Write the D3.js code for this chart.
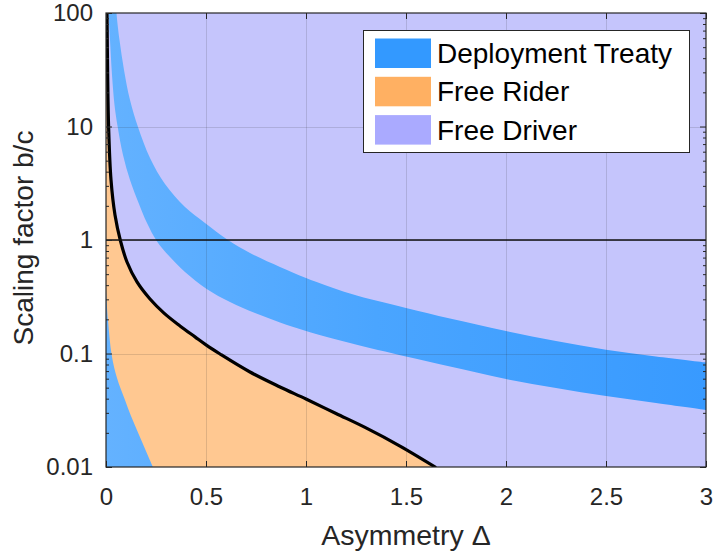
<!DOCTYPE html>
<html>
<head>
<meta charset="utf-8">
<script src="https://cdn.jsdelivr.net/npm/d3@7"></script>
<style>
  body { margin: 0; background: #fff; }
  svg text { font-family: "Liberation Sans", Arial, Helvetica, sans-serif; }
</style>
</head>
<body>
<div id="chart"></div>
<script>
// tick values
var deltaTicks = [0, 0.5, 1, 1.5, 2, 2.5, 3];
var bcTicks = [0.01, 0.1, 1, 10, 100];
var bcTickLabels = ["0.01", "0.1", "1", "10", "100"];

// free rider boundary (black curve)
var riderDelta = [0.0045, 0.005, 0.008, 0.013, 0.025, 0.045, 0.0725, 0.105, 0.155, 0.22, 0.29, 0.37, 0.445, 0.5, 0.57, 0.72, 0.87, 1.0, 1.15, 1.3, 1.47, 1.65];
var riderBC    = [130, 100, 31.5, 9.9, 3.38, 1.66, 0.98, 0.64, 0.427, 0.302, 0.227, 0.175, 0.14, 0.119, 0.099, 0.0687, 0.0507, 0.0397, 0.0296, 0.0221, 0.0153, 0.0099];

// deployment treaty band: outer (upper) and inner (lower) edges
var treatyOuterDelta = [0.05, 0.0525, 0.0675, 0.09, 0.12, 0.16, 0.22, 0.295, 0.395, 0.495, 0.61, 0.72, 0.87, 1.0, 1.22, 1.5, 1.72, 2.0, 2.25, 2.5, 2.75, 3.0];
var treatyOuterBC    = [130, 100, 57.8, 31.5, 17.1, 9.9, 5.28, 3.11, 1.95, 1.41, 1.0, 0.768, 0.578, 0.463, 0.338, 0.252, 0.2035, 0.158, 0.1288, 0.108, 0.0941, 0.0833];
var treatyInnerDelta = [0.01, 0.0125, 0.02, 0.03, 0.0425, 0.0585, 0.085, 0.12, 0.165, 0.205, 0.2535, 0.32, 0.395, 0.5035, 0.62, 0.745, 0.87, 1.0, 1.22, 1.5, 1.72, 2.0, 2.25, 2.5, 2.75, 3.0];
var treatyInnerBC    = [130, 100, 57.8, 28.4, 15.5, 9.9, 5.61, 3.38, 2.08, 1.41, 0.98, 0.708, 0.522, 0.37, 0.284, 0.227, 0.1875, 0.158, 0.1238, 0.0941, 0.0768, 0.0596, 0.0497, 0.0422, 0.0366, 0.0318];

// deployment treaty region near the left edge
var treatyLeftDelta = [0, 0.01, 0.0285, 0.055, 0.095, 0.125, 0.1615, 0.1975, 0.2365];
var treatyLeftBC    = [0.363, 0.197, 0.097, 0.0608, 0.0389, 0.0281, 0.0198, 0.0141, 0.0098];

// legend
var legendNames = ["Deployment Treaty", "Free Rider", "Free Driver"];
var legendColors = ["#3399ff", "#ffb062", "#aaaaff"];

var width = 716, height = 558;
var pLeft = 106, pRight = 706, pTop = 13, pBottom = 467;

var svg = d3.select("#chart").append("svg")
  .attr("width", width)
  .attr("height", height);

var x = d3.scaleLinear().domain([0, 3]).range([pLeft, pRight]);
var y = d3.scaleLog().domain([0.01, 100]).range([pBottom, pTop]);

var defs = svg.append("defs");
defs.append("clipPath").attr("id", "plotclip")
  .append("rect")
  .attr("x", pLeft).attr("y", pTop)
  .attr("width", pRight - pLeft).attr("height", pBottom - pTop);

var grad = defs.append("linearGradient").attr("id", "bluegrad")
  .attr("gradientUnits", "userSpaceOnUse")
  .attr("x1", pLeft).attr("x2", pRight).attr("y1", 0).attr("y2", 0);
grad.append("stop").attr("offset", "0%").attr("stop-color", "#64b2ff");
grad.append("stop").attr("offset", "45%").attr("stop-color", "#4aa5ff");
grad.append("stop").attr("offset", "100%").attr("stop-color", "#389aff");

function zipPts(xs, ys) {
  return xs.map(function(d, i) { return [d, ys[i]]; });
}

var line = d3.line()
  .x(function(d) { return x(d[0]); })
  .y(function(d) { return y(d[1]); })
  .curve(d3.curveCatmullRom.alpha(0.5));

var plot = svg.append("g").attr("clip-path", "url(#plotclip)");

// free driver: everything
plot.append("rect")
  .attr("x", pLeft).attr("y", pTop)
  .attr("width", pRight - pLeft).attr("height", pBottom - pTop)
  .attr("fill", "#c5c5fc");

// free rider: below the black curve
var rider = zipPts(riderDelta, riderBC);
plot.append("path")
  .attr("d", line(rider) + "L" + x(0) + "," + y(0.005) + "L" + x(0) + "," + y(200) + "Z")
  .attr("fill", "#ffc891");

// deployment treaty near the left edge
var treatyLeft = zipPts(treatyLeftDelta, treatyLeftBC);
plot.append("path")
  .attr("d", line(treatyLeft) + "L" + x(0) + "," + y(0.005) + "Z")
  .attr("fill", "url(#bluegrad)");

// deployment treaty band
var outer = zipPts(treatyOuterDelta, treatyOuterBC);
var inner = zipPts(treatyInnerDelta, treatyInnerBC).reverse();
plot.append("path")
  .attr("d", line(outer) + "L" + line(inner).slice(1) + "Z")
  .attr("fill", "url(#bluegrad)");

// grid
var grid = svg.append("g").attr("stroke", "#262626").attr("stroke-opacity", 0.15).attr("stroke-width", 1);
grid.selectAll("line.gx").data(deltaTicks.slice(1, -1)).enter().append("line")
  .attr("x1", function(d) { return Math.round(x(d)) + 0.5; })
  .attr("x2", function(d) { return Math.round(x(d)) + 0.5; })
  .attr("y1", pTop).attr("y2", pBottom);
grid.selectAll("line.gy").data(bcTicks.slice(1, -1)).enter().append("line")
  .attr("y1", function(d) { return Math.round(y(d)) + 0.5; })
  .attr("y2", function(d) { return Math.round(y(d)) + 0.5; })
  .attr("x1", pLeft).attr("x2", pRight);

// b/c = 1 reference line
svg.append("line")
  .attr("x1", pLeft).attr("x2", pRight)
  .attr("y1", y(1)).attr("y2", y(1))
  .attr("stroke", "#111").attr("stroke-width", 1.5);

// black boundary curve
plot.append("path")
  .attr("d", line(rider))
  .attr("fill", "none")
  .attr("stroke", "#000")
  .attr("stroke-width", 3.2);

// axes
var minorTicks = [];
[0.01, 0.1, 1, 10].forEach(function(p) {
  for (var k = 2; k <= 9; k++) minorTicks.push(p * k);
});

function styleAxis(g) {
  g.select(".domain").remove();
  g.selectAll("line").attr("stroke", "#262626");
  g.selectAll("text").attr("fill", "#262626").style("font-size", "24px");
}

svg.append("g")
  .attr("transform", "translate(0," + pBottom + ")")
  .call(d3.axisBottom(x).tickValues(deltaTicks).tickFormat(d3.format("~g"))
    .tickSizeInner(-6).tickSizeOuter(0).tickPadding(21))
  .call(styleAxis);
svg.append("g")
  .attr("transform", "translate(0," + pTop + ")")
  .call(d3.axisTop(x).tickValues(deltaTicks).tickFormat("").tickSizeInner(-6).tickSizeOuter(0))
  .call(styleAxis);

svg.append("g")
  .attr("transform", "translate(" + pLeft + ",0)")
  .call(d3.axisLeft(y).tickValues(bcTicks)
    .tickFormat(function(d, i) { return bcTickLabels[i]; })
    .tickSizeInner(-6).tickSizeOuter(0).tickPadding(13))
  .call(styleAxis);
svg.append("g")
  .attr("transform", "translate(" + pLeft + ",0)")
  .call(d3.axisLeft(y).tickValues(minorTicks).tickFormat("").tickSizeInner(-3).tickSizeOuter(0))
  .call(styleAxis);
svg.append("g")
  .attr("transform", "translate(" + pRight + ",0)")
  .call(d3.axisRight(y).tickValues(bcTicks).tickFormat("").tickSizeInner(-6).tickSizeOuter(0))
  .call(styleAxis);
svg.append("g")
  .attr("transform", "translate(" + pRight + ",0)")
  .call(d3.axisRight(y).tickValues(minorTicks).tickFormat("").tickSizeInner(-3).tickSizeOuter(0))
  .call(styleAxis);

// frame
svg.append("rect")
  .attr("x", pLeft).attr("y", pTop)
  .attr("width", pRight - pLeft).attr("height", pBottom - pTop)
  .attr("fill", "none")
  .attr("stroke", "#262626")
  .attr("stroke-width", 1.2);

// axis labels
svg.append("text")
  .attr("x", 406).attr("y", 545)
  .attr("text-anchor", "middle")
  .attr("fill", "#262626")
  .style("font-size", "28.5px")
  .text("Asymmetry \u0394");

svg.append("text")
  .attr("transform", "translate(33,238) rotate(-90)")
  .attr("text-anchor", "middle")
  .attr("fill", "#262626")
  .style("font-size", "28px")
  .text("Scaling factor b/c");

// legend
var legend = svg.append("g");
legend.append("rect")
  .attr("x", 363.5).attr("y", 30.5)
  .attr("width", 326).attr("height", 122)
  .attr("fill", "#fff")
  .attr("stroke", "#262626")
  .attr("stroke-width", 1);
var rows = legend.selectAll("g.row").data(legendNames).enter().append("g")
  .attr("transform", function(d, i) { return "translate(375," + (38.5 + i * 38.3) + ")"; });
rows.append("rect")
  .attr("width", 56).attr("height", 29.5)
  .attr("fill", function(d, i) { return legendColors[i]; });
rows.append("text")
  .attr("x", 62).attr("y", 24.5)
  .attr("fill", "#000")
  .style("font-size", "28px")
  .text(function(d) { return d; });
</script>
</body>
</html>
